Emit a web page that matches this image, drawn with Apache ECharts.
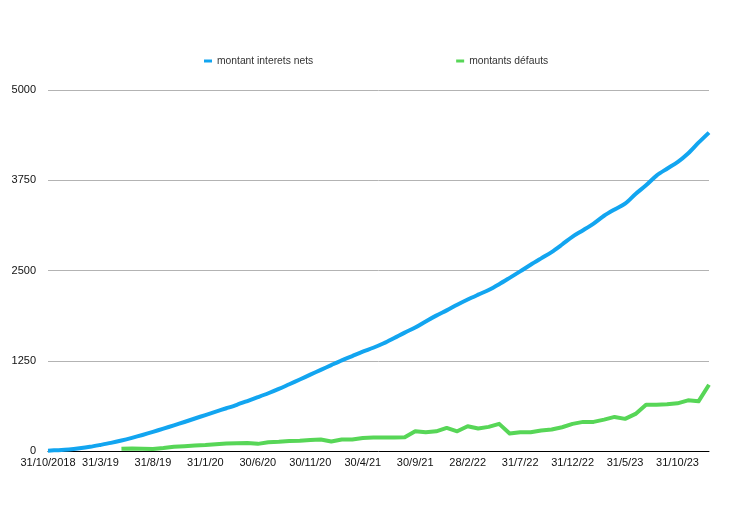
<!DOCTYPE html>
<html>
<head>
<meta charset="utf-8">
<script src="https://cdn.jsdelivr.net/npm/echarts@6/dist/echarts.min.js"></script>
<style>
  html, body { margin: 0; padding: 0; background: #fff; }
  #chart { width: 741px; height: 525px; }
</style>
</head>
<body>
<div id="chart"></div>
<script>
var months = [
    '31/10/2018', '30/11/18', '31/12/18',
    '31/1/19', '28/2/19', '31/3/19', '30/4/19', '31/5/19', '30/6/19', '31/7/19', '31/8/19', '30/9/19', '31/10/19', '30/11/19', '31/12/19',
    '31/1/20', '29/2/20', '31/3/20', '30/4/20', '31/5/20', '30/6/20', '31/7/20', '31/8/20', '30/9/20', '31/10/20', '30/11/20', '31/12/20',
    '31/1/21', '28/2/21', '31/3/21', '30/4/21', '31/5/21', '30/6/21', '31/7/21', '31/8/21', '30/9/21', '31/10/21', '30/11/21', '31/12/21',
    '31/1/22', '28/2/22', '31/3/22', '30/4/22', '31/5/22', '30/6/22', '31/7/22', '31/8/22', '30/9/22', '31/10/22', '30/11/22', '31/12/22',
    '31/1/23', '28/2/23', '31/3/23', '30/4/23', '31/5/23', '30/6/23', '31/7/23', '31/8/23', '30/9/23', '31/10/23', '30/11/23', '31/12/23',
    '31/1/24'
];

// montant interets nets
var interets = [
    5, 12, 22, 38, 58, 84, 112, 145, 182, 222,
    265, 310, 355, 402, 450, 498, 545, 592, 640, 692,
    745, 800, 860, 925, 990, 1058, 1124, 1190, 1255, 1315,
    1375, 1430, 1492, 1565, 1640, 1710, 1795, 1875, 1948, 2025,
    2098, 2165, 2230, 2310, 2398, 2488, 2580, 2668, 2755, 2860,
    2970, 3058, 3150, 3258, 3345, 3425, 3560, 3680, 3815, 3910,
    4000, 4120, 4270, 4410
];

// montants défauts (pas de valeur avant mai 2019)
var defauts = [
    null, null, null, null, null, null, null, 30, 35, 30,
    28, 41, 58, 66, 76, 83, 94, 104, 108, 110,
    99, 122, 127, 138, 141, 152, 159, 131, 159, 159,
    180, 186, 186, 186, 190, 273, 260, 273, 320, 273,
    343, 311, 334, 376, 242, 260, 260, 283, 297, 329,
    376, 403, 403, 435, 472, 445, 514, 642, 642, 646,
    660, 702, 688, 918
];

var yTicks = [0, 1250, 2500, 3750, 5000];

var chart = echarts.init(document.getElementById('chart'));
var font = '"Liberation Sans", Arial, sans-serif';

chart.setOption({
    animation: false,
    textStyle: {fontFamily: font},
    legend: {
        left: 199,
        top: 51,
        icon: 'rect',
        itemWidth: 8,
        itemHeight: 3,
        itemGap: 143,
        textStyle: {fontSize: 10.3, color: '#333', fontFamily: font},
        data: ['montant interets nets', 'montants défauts']
    },
    grid: {left: 48, right: 32, top: 90, bottom: 74},
    xAxis: {
        type: 'category',
        boundaryGap: false,
        data: months,
        axisLine: {lineStyle: {color: '#000', width: 1}},
        axisTick: {show: false},
        axisLabel: {interval: 4, color: '#111', fontSize: 11, margin: 6, fontFamily: font}
    },
    yAxis: {
        type: 'value',
        min: yTicks[0],
        max: yTicks[yTicks.length - 1],
        interval: yTicks[1] - yTicks[0],
        axisLine: {show: false},
        axisTick: {show: false},
        axisLabel: {
            color: '#111', fontSize: 11, margin: 12, fontFamily: font,
            formatter: function (v) { return String(v); }
        },
        splitLine: {lineStyle: {color: '#b3b3b3', width: 1}}
    },
    series: [{
        name: 'montant interets nets',
        type: 'line',
        data: interets,
        showSymbol: false,
        smooth: 0.3,
        color: '#12a5f0',
        lineStyle: {width: 4, color: '#12a5f0', join: 'round'}
    }, {
        name: 'montants défauts',
        type: 'line',
        data: defauts,
        showSymbol: false,
        color: '#57d657',
        lineStyle: {width: 4, color: '#57d657', join: 'round'}
    }]
});
</script>
</body>
</html>
